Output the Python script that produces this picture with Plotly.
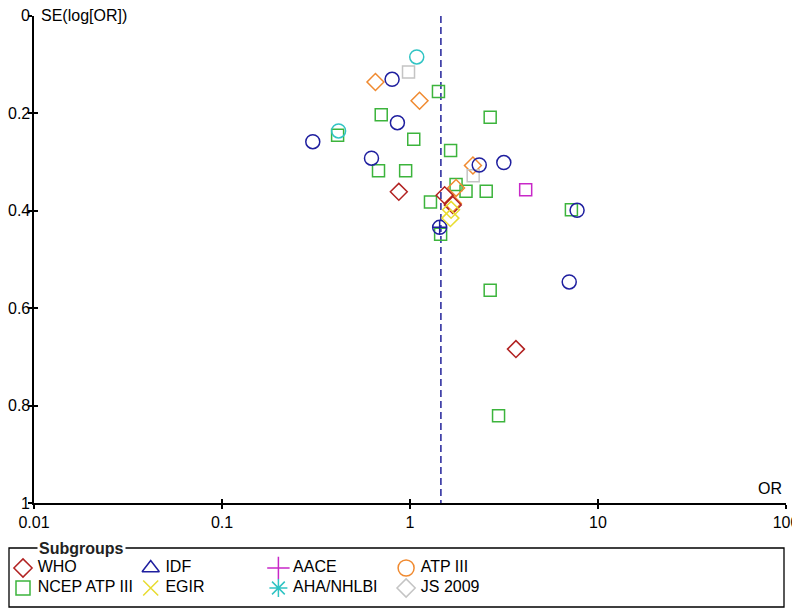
import plotly.graph_objects as go

# pooled estimate (dashed line)
pooled_or = 1.46

# subgroup data: odds ratio and SE(log[OR])
who_or = [0.872, 1.528, 1.689, 3.66]
who_se = [0.361, 0.368, 0.388, 0.684]

ncep_or = [1.417, 0.703, 2.67, 1.047, 0.412, 1.644, 0.68, 0.948, 1.758, 1.986,
           2.543, 1.285, 7.22, 1.455, 2.67, 2.958]
ncep_se = [0.155, 0.203, 0.208, 0.253, 0.245, 0.276, 0.318, 0.318, 0.346, 0.36,
           0.36, 0.382, 0.398, 0.448, 0.563, 0.821]

idf_or = [0.803, 0.857, 0.304, 0.624, 2.335, 3.155, 7.74, 7.03]
idf_se = [0.130, 0.219, 0.258, 0.292, 0.306, 0.301, 0.399, 0.546]
idf_cross_or = [1.438]
idf_cross_se = [0.434]

atp_or = [0.655, 1.124, 2.162, 1.758, 1.689]
atp_se = [0.1355, 0.174, 0.307, 0.353, 0.385]

egir_or = [1.654, 1.64]
egir_se = [0.398, 0.415]

js_or = [0.982, 2.168]
js_se = [0.115, 0.328]

aha_or = [1.086, 0.417]
aha_se = [0.084, 0.236]

aace_or = [4.124]
aace_se = [0.357]

x_ticks = [0.01, 0.1, 1, 10, 100]
x_tick_text = ["0.01", "0.1", "1", "10", "100"]
y_ticks = [0, 0.2, 0.4, 0.6, 0.8, 1]
y_tick_text = ["0", "0.2", "0.4", "0.6", "0.8", "1"]

# legend entries, filled row by row, 4 columns
legend_names = ["WHO", "IDF", "AACE", "ATP III", "NCEP ATP III", "EGIR", "AHA/NHLBI", "JS 2009"]
legend_symbols = ["diamond-open", "triangle-up-open", "cross-thin-open", "circle-open",
                  "square-open", "x-thin-open", "asterisk-open", "diamond-open"]
legend_colors = ["#b22222", "#1f1f9f", "#c828c8", "#f08a30",
                 "#3cb43c", "#e8dc30", "#30c4c4", "#c4c4c4"]
legend_sizes = [14, 15, 16, 16, 14, 15, 15, 14]

FONT = "Liberation Sans, Arial, sans-serif"
# page has an 8px body margin, so the figure is 792x600 and sits at (8, 8)
W, H = 792, 600

fig = go.Figure()


def add_group(xs, ys, symbol, color, size):
    fig.add_trace(go.Scatter(
        x=xs, y=ys, mode="markers", showlegend=False, hoverinfo="x+y",
        marker=dict(symbol=symbol, size=size, color=color,
                    line=dict(color=color, width=1.5)),
    ))


# dashed line for pooled OR
fig.add_trace(go.Scatter(
    x=[pooled_or, pooled_or], y=[0, 1], mode="lines", showlegend=False,
    line=dict(color="#23239a", width=1.5, dash="7px,4px"), hoverinfo="skip",
))

add_group(ncep_or, ncep_se, "square-open", "#3cb43c", 12)
add_group(atp_or, atp_se, "diamond-open", "#f08a30", 13)
add_group(js_or, js_se, "square-open", "#c4c4c4", 12)
add_group(aace_or, aace_se, "square-open", "#c828c8", 12)
add_group(aha_or, aha_se, "circle-open", "#30c4c4", 14)
add_group(idf_or, idf_se, "circle-open", "#1f1f9f", 14)
add_group(idf_cross_or, idf_cross_se, "circle-cross-open", "#1f1f9f", 14)
add_group(who_or, who_se, "diamond-open", "#b22222", 13)
add_group(egir_or, egir_se, "diamond-open", "#e8dc30", 13)

# empty trace so the inside-tick overlay axes are drawn
fig.add_trace(go.Scatter(x=[None], y=[None], xaxis="x3", yaxis="y3",
                         showlegend=False, hoverinfo="skip"))

# legend drawn on its own hidden axes
cols = [i % 4 for i in range(len(legend_names))]
rows = [i // 4 for i in range(len(legend_names))]
for name, sym, col, size, c, r in zip(legend_names, legend_symbols, legend_colors,
                                      legend_sizes, cols, rows):
    fig.add_trace(go.Scatter(
        x=[c], y=[r], xaxis="x2", yaxis="y2", mode="markers", showlegend=False,
        hoverinfo="skip",
        marker=dict(symbol=sym, size=size, color=col, line=dict(color=col, width=1.5)),
    ))
fig.add_trace(go.Scatter(
    x=[c + 0.115 for c in cols], y=rows, xaxis="x2", yaxis="y2", mode="text",
    text=legend_names, textposition="middle right", showlegend=False,
    hoverinfo="skip", textfont=dict(family=FONT, size=16, color="black"),
))

x_dom = [26 / W, 778 / W]
y_dom = [(H - 495) / H, (H - 8) / H]

axis_common = dict(showgrid=False, zeroline=False, color="black", automargin=False,
                   ticklabeloverflow="allow",
                   tickfont=dict(family=FONT, size=16, color="black"))

# y tick labels as text next to the axis (the page margin leaves no room further left)
y_labels = [dict(text=t, xref="paper", yref="y", x=24 / W, y=v, xanchor="right",
                 yanchor="middle", showarrow=False,
                 font=dict(family=FONT, size=16, color="black"))
            for t, v in zip(y_tick_text, y_ticks)]

fig.update_layout(
    width=W, height=H,
    margin=dict(l=0, r=0, t=0, b=0, autoexpand=False),
    paper_bgcolor="white", plot_bgcolor="rgba(0,0,0,0)",
    font=dict(family=FONT, size=16, color="black"),
    xaxis=dict(type="log", range=[-2, 2], domain=x_dom, tickvals=x_ticks,
               ticktext=x_tick_text, showline=True, linewidth=1.5, linecolor="black",
               ticks="outside", ticklen=4, tickwidth=1.5, tickcolor="black",
               anchor="y", **axis_common),
    yaxis=dict(range=[1, 0], domain=y_dom, tickvals=y_ticks, showticklabels=False,
               showline=True, linewidth=1.5, linecolor="black",
               ticks="outside", ticklen=4, tickwidth=1.5, tickcolor="black",
               anchor="x", **axis_common),
    xaxis3=dict(type="log", range=[-2, 2], overlaying="x", tickvals=x_ticks,
                showticklabels=False, ticks="inside", ticklen=4, tickwidth=1.5,
                tickcolor="black", showline=False, showgrid=False, zeroline=False,
                automargin=False, anchor="y3"),
    yaxis3=dict(range=[1, 0], overlaying="y", tickvals=y_ticks,
                showticklabels=False, ticks="inside", ticklen=4, tickwidth=1.5,
                tickcolor="black", showline=False, showgrid=False, zeroline=False,
                automargin=False, anchor="x3"),
    xaxis2=dict(domain=[0, 1], range=[-15 / 127.7, (W - 15) / 127.7], visible=False,
                fixedrange=True, automargin=False, anchor="y2"),
    yaxis2=dict(domain=[0, 60 / H], range=[2, -1], visible=False,
                fixedrange=True, automargin=False, anchor="x2"),
    shapes=[dict(type="rect", xref="paper", yref="paper",
                 x0=1 / W, x1=776 / W, y0=1 / H, y1=(H - 540) / H,
                 line=dict(color="black", width=1.3))],
    annotations=y_labels + [
        dict(text="SE(log[OR])", xref="paper", yref="paper", x=31 / W, y=1,
             xanchor="left", yanchor="top", yshift=3, showarrow=False,
             font=dict(family=FONT, size=16, color="black")),
        dict(text="OR", xref="paper", yref="paper", x=776 / W, y=(H - 491) / H,
             xanchor="right", yanchor="bottom", showarrow=False,
             font=dict(family=FONT, size=16, color="black")),
        dict(text="<b>Subgroups</b>", xref="paper", yref="paper", x=29 / W,
             y=(H - 540) / H, xanchor="left", yanchor="middle", showarrow=False,
             bgcolor="white", borderpad=1,
             font=dict(family=FONT, size=16, color="#222222")),
    ],
)

fig.write_html("out.html")
